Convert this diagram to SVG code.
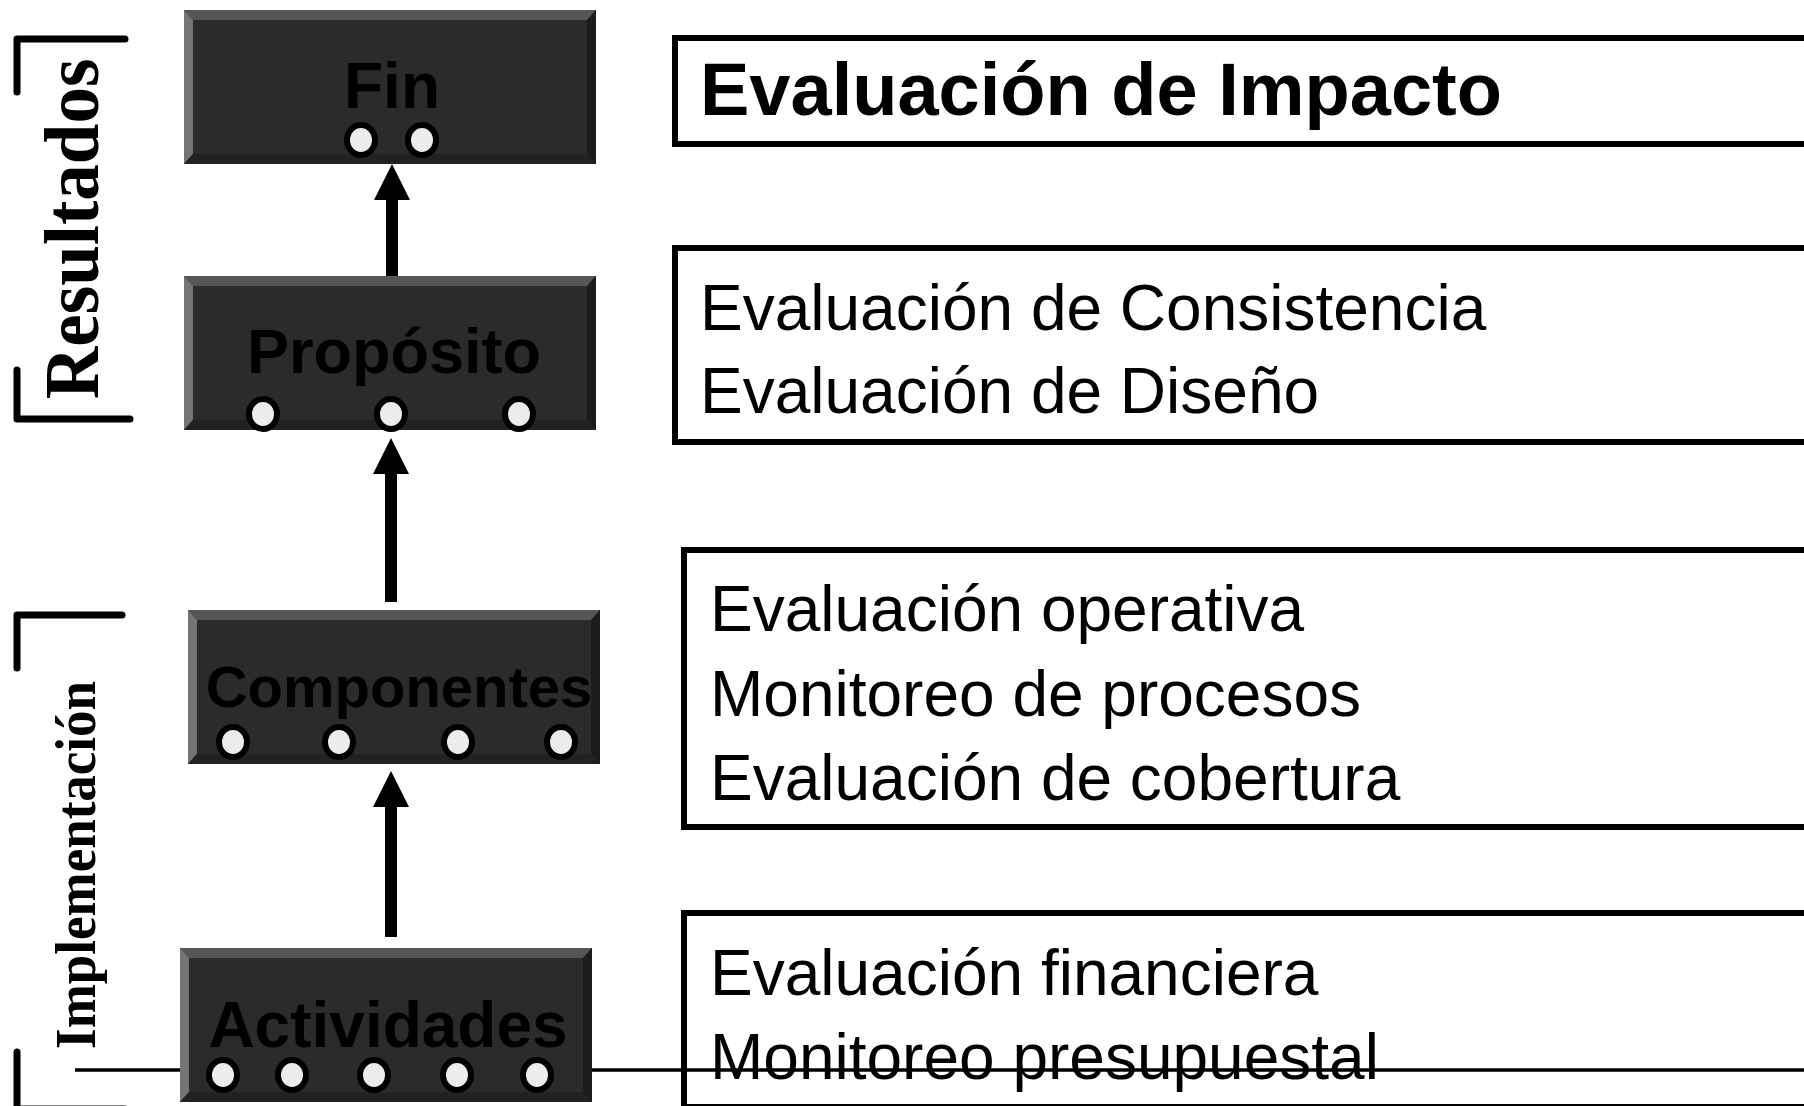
<svg xmlns="http://www.w3.org/2000/svg" width="1804" height="1106" viewBox="0 0 1804 1106">
<style>
.lbl{font-family:"Liberation Sans",Arial,sans-serif;font-weight:bold;fill:#000;text-anchor:middle}
.dot{fill:#ececec;stroke:#000;stroke-width:6}
.ev{font-family:"Liberation Sans",Arial,sans-serif;font-size:64px;fill:#000}
.ev.big{font-size:74px;font-weight:bold}
.frame{fill:#fff;stroke:#000;stroke-width:6}
.brk{fill:none;stroke:#000;stroke-width:7;stroke-linecap:round;stroke-linejoin:round}
.side{font-family:"Liberation Serif","Times New Roman",serif;font-weight:bold;fill:#000;text-anchor:middle}
.arr{stroke:#000;stroke-width:12;fill:none}
</style>
<defs>
<g id="box">
<rect x="0" y="0" width="412" height="154" fill="#2b2b2b"/>
<polygon points="0,0 412,0 403,10 9,10" fill="#565656"/>
<polygon points="0,0 9,10 9,144 0,154" fill="#757575"/>
<polygon points="0,154 9,144 403,144 412,154" fill="#222222"/>
<polygon points="412,0 412,154 403,144 403,10" fill="#1c1c1c"/>
</g>
<marker id="ah" markerUnits="userSpaceOnUse" markerWidth="36" markerHeight="36" refX="0" refY="18" orient="auto">
<path d="M0,0 L36,18 L0,36 z" fill="#000"/>
</marker>
</defs>
<rect width="1804" height="1106" fill="#fff"/>

<g id="bracket-resultados">
<path class="brk" d="M125,39 H17 V92"/>
<path class="brk" d="M17,370 V419 H130"/>
<text class="side" font-size="73" transform="translate(98,229) rotate(-90) scale(1,1.08)">Resultados</text>
</g>
<g id="bracket-implementacion">
<path class="brk" d="M122,615 H17 V668"/>
<path class="brk" d="M17,1052 V1109 H125"/>
<text class="side" font-size="53" transform="translate(95,865) rotate(-90) scale(1,1.08)">Implementación</text>
</g>

<g id="eval-impacto">
<rect class="frame" x="675" y="38" width="1150" height="106"/>
<text class="ev big" x="700" y="115">Evaluación de Impacto</text>
</g>
<g id="eval-consistencia">
<rect class="frame" x="675" y="248" width="1150" height="194"/>
<text class="ev" x="700" y="330">Evaluación de Consistencia</text>
<text class="ev" x="700" y="413">Evaluación de Diseño</text>
</g>
<g id="eval-operativa">
<rect class="frame" x="684" y="550" width="1150" height="277"/>
<text class="ev" x="710" y="631">Evaluación operativa</text>
<text class="ev" x="710" y="716">Monitoreo de procesos</text>
<text class="ev" x="710" y="800">Evaluación de cobertura</text>
</g>
<g id="eval-financiera">
<rect class="frame" x="684" y="913" width="1150" height="194"/>
<text class="ev" x="710" y="995">Evaluación financiera</text>
<text class="ev" x="710" y="1079">Monitoreo presupuestal</text>
</g>

<g id="connectors">
<line x1="75" y1="1070" x2="1804" y2="1070" stroke="#000" stroke-width="3.5"/>
<line class="arr" x1="392" y1="276" x2="392" y2="200" marker-end="url(#ah)"/>
<line class="arr" x1="391" y1="602" x2="391" y2="474" marker-end="url(#ah)"/>
<line class="arr" x1="391" y1="937" x2="391" y2="807" marker-end="url(#ah)"/>
</g>

<g id="node-fin">
<use href="#box" x="184" y="10"/>
<text class="lbl" x="392" y="108" font-size="64">Fin</text>
<ellipse class="dot" cx="361" cy="140" rx="14" ry="15"/>
<ellipse class="dot" cx="422" cy="140" rx="14" ry="15"/>
</g>
<g id="node-proposito">
<use href="#box" x="184" y="276"/>
<text class="lbl" x="394" y="373" font-size="63">Propósito</text>
<ellipse class="dot" cx="263" cy="414" rx="14" ry="15"/>
<ellipse class="dot" cx="391" cy="414" rx="14" ry="15"/>
<ellipse class="dot" cx="519" cy="414" rx="14" ry="15"/>
</g>
<g id="node-componentes">
<use href="#box" x="188" y="610"/>
<text class="lbl" x="399" y="707" font-size="58">Componentes</text>
<ellipse class="dot" cx="233" cy="742" rx="14" ry="15"/>
<ellipse class="dot" cx="339" cy="742" rx="14" ry="15"/>
<ellipse class="dot" cx="458" cy="742" rx="14" ry="15"/>
<ellipse class="dot" cx="561" cy="742" rx="14" ry="15"/>
</g>
<g id="node-actividades">
<use href="#box" x="180" y="948"/>
<text class="lbl" x="388" y="1047" font-size="64">Actividades</text>
<ellipse class="dot" cx="223" cy="1075" rx="14" ry="15"/>
<ellipse class="dot" cx="292" cy="1075" rx="14" ry="15"/>
<ellipse class="dot" cx="374" cy="1075" rx="14" ry="15"/>
<ellipse class="dot" cx="457" cy="1075" rx="14" ry="15"/>
<ellipse class="dot" cx="537" cy="1075" rx="14" ry="15"/>
</g>
</svg>
